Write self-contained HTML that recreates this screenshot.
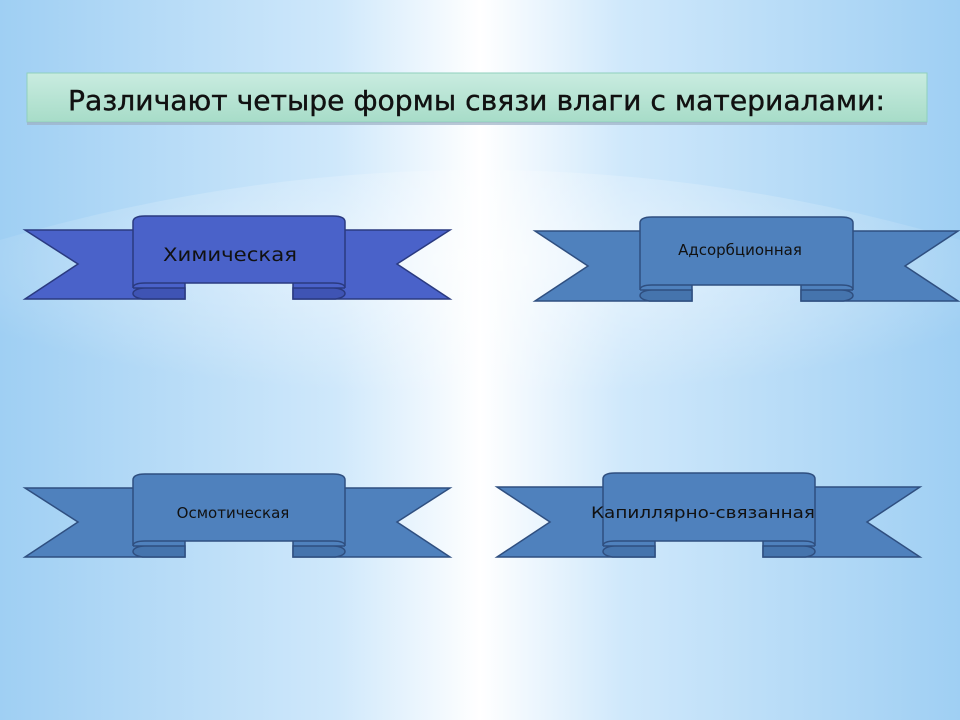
<!DOCTYPE html>
<html><head><meta charset="utf-8"><style>
html,body{margin:0;padding:0;}
body{width:960px;height:720px;overflow:hidden;}
svg{display:block;}
text{font-family:"DejaVu Sans","Liberation Sans",sans-serif;}
</style></head><body>
<svg width="960" height="720" viewBox="0 0 960 720" xmlns="http://www.w3.org/2000/svg">
<defs>
<linearGradient id="bg" x1="0" x2="1" y1="0" y2="0">
<stop offset="0" stop-color="#9fcff3"/><stop offset="0.35" stop-color="#cfe8fb"/><stop offset="0.5" stop-color="#ffffff"/><stop offset="0.65" stop-color="#cfe8fb"/><stop offset="1" stop-color="#9fcff3"/>
</linearGradient>
<radialGradient id="glow" cx="0.5" cy="0.4" r="0.6">
<stop offset="0" stop-color="#ffffff" stop-opacity="0.55"/><stop offset="1" stop-color="#ffffff" stop-opacity="0"/>
</radialGradient>
<linearGradient id="tb" x1="0" x2="0" y1="0" y2="1">
<stop offset="0" stop-color="#c9ece0"/><stop offset="1" stop-color="#a7dcc8"/>
</linearGradient>
</defs>
<rect width="960" height="720" fill="url(#bg)"/>
<path d="M0,240 Q480,100 960,240 V395 H0Z" fill="url(#glow)"/>
<rect x="27" y="73" width="900" height="49" fill="url(#tb)" stroke="#8fd0bd" stroke-width="1"/>
<rect x="27" y="122" width="900" height="3" fill="#9db0c4" opacity="0.7"/>
<text x="68" y="110" font-size="28" textLength="817" lengthAdjust="spacingAndGlyphs" fill="#111" stroke="#111" stroke-width="0.4">Различают четыре формы связи влаги с материалами:</text>

<g fill="#4a62c9" stroke="#2a3a80" stroke-width="1.5">
<polygon points="25,230 185,230 185,299 25,299 78,264"/>
<polygon points="293,230 450,230 397,264 450,299 293,299"/>
<path d="M133,288 h52 v11 h-40 a12,5.5 0 0 1 0,-11z" fill="#3f54b4"/>
<path d="M345,288 h-52 v11 h40 a12,5.5 0 0 0 0,-11z" fill="#3f54b4"/>
<path d="M133,222 q0,-6 12,-6 h188 q12,0 12,6 v66 q0,-5 -12,-5 h-188 q-12,0 -12,5z"/>
</g>
<text x="163" y="261" font-size="19" textLength="134" lengthAdjust="spacingAndGlyphs" fill="#111">Химическая</text>

<g fill="#4f81bd" stroke="#2f4f80" stroke-width="1.5">
<polygon points="535,231 692,231 692,301 535,301 588,266"/>
<polygon points="801,231 958,231 905,266 958,301 801,301"/>
<path d="M640,290 h52 v11 h-40 a12,5.5 0 0 1 0,-11z" fill="#4574ad"/>
<path d="M853,290 h-52 v11 h40 a12,5.5 0 0 0 0,-11z" fill="#4574ad"/>
<path d="M640,223 q0,-6 12,-6 h189 q12,0 12,6 v67 q0,-5 -12,-5 h-189 q-12,0 -12,5z"/>
</g>
<text x="740" y="255" font-size="15" text-anchor="middle" fill="#111">Адсорбционная</text>

<g fill="#4f81bd" stroke="#2f4f80" stroke-width="1.5">
<polygon points="25,488 185,488 185,557 25,557 78,522"/>
<polygon points="293,488 450,488 397,522 450,557 293,557"/>
<path d="M133,546 h52 v11 h-40 a12,5.5 0 0 1 0,-11z" fill="#4574ad"/>
<path d="M345,546 h-52 v11 h40 a12,5.5 0 0 0 0,-11z" fill="#4574ad"/>
<path d="M133,480 q0,-6 12,-6 h188 q12,0 12,6 v66 q0,-5 -12,-5 h-188 q-12,0 -12,5z"/>
</g>
<text x="233" y="518" font-size="15" text-anchor="middle" fill="#111">Осмотическая</text>

<g fill="#4f81bd" stroke="#2f4f80" stroke-width="1.5">
<polygon points="497,487 655,487 655,557 497,557 550,522"/>
<polygon points="763,487 920,487 867,522 920,557 763,557"/>
<path d="M603,546 h52 v11 h-40 a12,5.5 0 0 1 0,-11z" fill="#4574ad"/>
<path d="M815,546 h-52 v11 h40 a12,5.5 0 0 0 0,-11z" fill="#4574ad"/>
<path d="M603,479 q0,-6 12,-6 h188 q12,0 12,6 v67 q0,-5 -12,-5 h-188 q-12,0 -12,5z"/>
</g>
<text x="703" y="518" font-size="16" text-anchor="middle" textLength="224" lengthAdjust="spacingAndGlyphs" fill="#111">Капиллярно-связанная</text>
</svg>
</body></html>
